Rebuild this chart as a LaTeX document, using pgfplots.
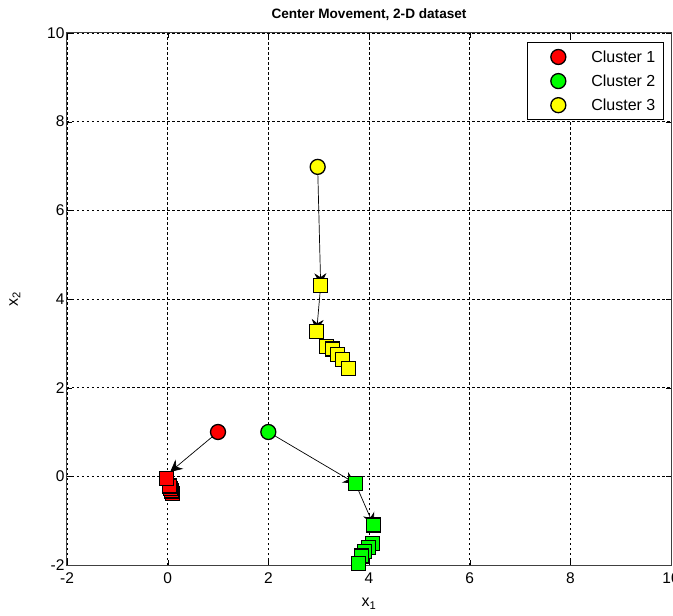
\documentclass[border=0pt]{standalone}
\usepackage{fontspec}
\setmainfont{Liberation Sans}
\usepackage{pgfplots}
\pgfplotsset{compat=1.18}
\usetikzlibrary{arrows.meta}
\definecolor{cRed}{RGB}{255,0,0}
\definecolor{cGreen}{RGB}{0,255,0}
\definecolor{cYellow}{RGB}{255,255,0}
\pgfplotsset{myleg/.style={legend image code/.code={\path[draw=none,fill=none] (0pt,0pt) -- (56pt,0pt); \draw[##1] plot coordinates {(26pt,0pt)};}}}
\begin{document}
\begin{tikzpicture}
\begin{axis}[
 name=ax,
 scale only axis, width=604pt, height=532pt,
 xmin=-2,xmax=10,ymin=-2,ymax=10,
 xtick={-2,0,...,10}, ytick={-2,0,...,10},
 grid=major, major grid style={black, dash pattern=on 2.5pt off 2.5pt, line width=0.6pt},
 axis line style={black!75, line width=1pt},
 tick align=inside, major tick length=5pt, tick style={black},
 ticklabel style={font=\fontsize{15.5}{17}\selectfont},
 xticklabel style={yshift=-4pt},
 yticklabel style={xshift=1pt},
 /pgf/number format/assume math mode=true,
 title={\bfseries Center Movement, 2-D dataset},
 title style={font=\fontsize{13.6}{15}\selectfont, at={(0.5,1)}, anchor=south, yshift=3pt},
 xlabel={x\textsubscript{1}}, ylabel={x\textsubscript{2}},
 label style={font=\fontsize{16}{18}\selectfont},
 xlabel style={yshift=-8pt},
 ylabel style={yshift=20pt},
 legend cell align=left,
 legend style={at={(rel axis cs:0.988,0.983)}, anchor=north east,
   draw=black, line width=0.8pt, font=\fontsize{16}{18}\selectfont,
   row sep=7pt, inner xsep=5pt, inner ysep=6pt,
   nodes={inner xsep=3pt, inner ysep=2pt}},
]
% start centers
\addplot[only marks, mark=*, mark size=7.5pt, mark options={fill=cRed, draw=black, line width=1.3pt}, myleg] coordinates {(1,1)};
\addlegendentry{Cluster 1}
\addplot[only marks, mark=*, mark size=7.5pt, mark options={fill=cGreen, draw=black, line width=1.3pt}, myleg] coordinates {(2,1)};
\addlegendentry{Cluster 2}
\addplot[only marks, mark=*, mark size=7.5pt, mark options={fill=cYellow, draw=black, line width=1.3pt}, myleg] coordinates {(2.98,6.98)};
\addlegendentry{Cluster 3}
% moved centers
\addplot[only marks, mark=square*, mark size=7pt, mark options={fill=cRed, draw=black, line width=1.3pt}, forget plot] coordinates {
(0.09,-0.38) (0.08,-0.33) (0.06,-0.28) (0.03,-0.22) (-0.03,-0.05)};
\addplot[only marks, mark=square*, mark size=7pt, mark options={fill=cGreen, draw=black, line width=1.3pt}, forget plot] coordinates {
(3.73,-0.16) (4.09,-1.10) (4.07,-1.51) (3.99,-1.60) (3.91,-1.69) (3.85,-1.80) (3.79,-1.96)};
\addplot[only marks, mark=square*, mark size=7pt, mark options={fill=cYellow, draw=black, line width=1.3pt}, forget plot] coordinates {
(3.04,4.31) (2.96,3.27) (3.15,2.93) (3.27,2.87) (3.37,2.75) (3.47,2.64) (3.59,2.44)};
% movement arrows
\addplot[black, line width=0.7pt, -{Stealth[length=12pt,width=12pt,inset=4pt]}, shorten <=7pt, forget plot] coordinates {(1,1) (0.05,0.1)};
\addplot[black, line width=0.7pt, -{Stealth[length=12pt,width=12pt,inset=4pt]}, shorten <=7pt, forget plot] coordinates {(2,1) (3.73,-0.16)};
\addplot[black, line width=0.7pt, -{Stealth[length=12pt,width=12pt,inset=4pt]}, shorten <=6pt, forget plot] coordinates {(3.73,-0.16) (4.09,-1.10)};
\addplot[black, line width=0.7pt, -{Stealth[length=12pt,width=12pt,inset=4pt]}, shorten <=7pt, forget plot] coordinates {(2.98,6.98) (3.04,4.31)};
\addplot[black, line width=0.7pt, -{Stealth[length=12pt,width=12pt,inset=4pt]}, shorten <=6pt, forget plot] coordinates {(3.04,4.31) (2.96,3.27)};
\end{axis}
\pgfresetboundingbox
\path ([xshift=-67pt,yshift=-50pt]ax.south west) rectangle ([xshift=2pt,yshift=33pt]ax.north east);
\end{tikzpicture}
\end{document}
